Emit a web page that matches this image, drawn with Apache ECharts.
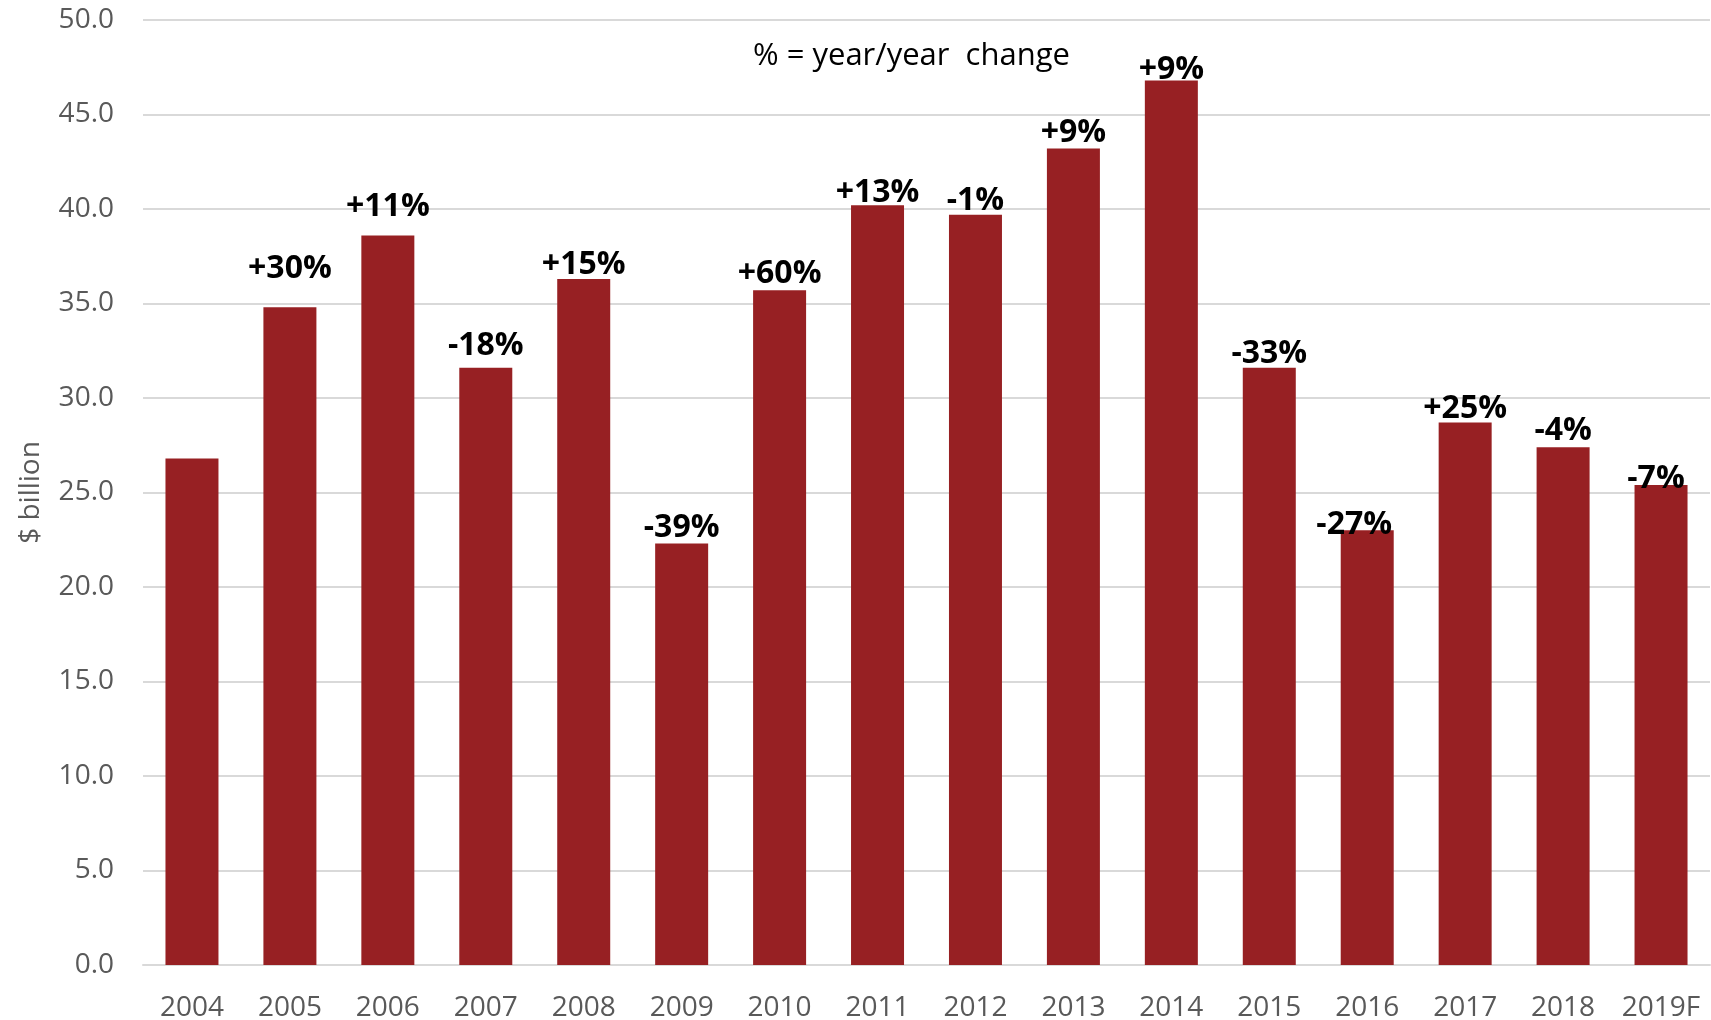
<!DOCTYPE html>
<html>
<head>
<meta charset="utf-8">
<script src="https://cdn.jsdelivr.net/npm/echarts@6/dist/echarts.min.js"></script>
<style>
html, body { margin: 0; padding: 0; background: #ffffff; }
#chart { width: 1711px; height: 1020px; }
</style>
</head>
<body>
<div id="chart"></div>
<script>
var years = ['2004', '2005', '2006', '2007', '2008', '2009', '2010', '2011',
  '2012', '2013', '2014', '2015', '2016', '2017', '2018', '2019F']
var values = [26.8, 34.8, 38.6, 31.6, 36.3, 22.3, 35.7, 40.2,
  39.7, 43.2, 46.8, 31.6, 23.0, 28.7, 27.4, 25.4]
var changes = ['', '+30%', '+11%', '-18%', '+15%', '-39%', '+60%', '+13%',
  '-1%', '+9%', '+9%', '-33%', '-27%', '+25%', '-4%', '-7%']
var yTicks = [0, 5, 10, 15, 20, 25, 30, 35, 40, 45, 50]

// small label shifts [x, y] so the % labels sit like in the original
var labelShift = [[0, 0], [0, -22], [0, -13], [0, -6], [0, 2], [0, 0], [0, 0], [0, 4],
  [0, 2], [0, 0], [0, 5], [0, 2], [-13, 11], [0, 2], [0, 0], [-5, 10]]

var grey = '#595959'
var barColor = '#972023'

var myChart = echarts.init(document.getElementById('chart'))

var seriesData = values.map(function (v, i) {
  return {
    value: v,
    label: { offset: labelShift[i] }
  }
})

var option = {
  animation: false,
  grid: { left: 143, right: 1, top: 20, bottom: 55, outerBoundsMode: 'none' },
  graphic: [{
    type: 'text',
    left: 753,
    top: 41,
    style: {
      text: '% = year/year  change',
      fill: '#000000',
      font: '31px "Open Sans"'
    }
  }],
  xAxis: {
    type: 'category',
    data: years,
    axisLine: { show: true, lineStyle: { color: '#d9d9d9', width: 2 } },
    axisTick: { show: false },
    axisLabel: {
      color: grey,
      fontFamily: 'Open Sans',
      fontSize: 28,
      margin: 29,
      interval: 0
    }
  },
  yAxis: {
    type: 'value',
    min: yTicks[0],
    max: yTicks[yTicks.length - 1],
    interval: 5,
    name: '$ billion',
    nameLocation: 'middle',
    nameGap: 98,
    nameRotate: 90,
    nameTextStyle: { color: grey, fontFamily: 'Open Sans', fontSize: 28 },
    axisLine: { show: false },
    axisTick: { show: false },
    splitLine: { lineStyle: { color: '#d9d9d9', width: 2 } },
    axisLabel: {
      color: grey,
      fontFamily: 'Open Sans',
      fontSize: 28,
      margin: 29,
      formatter: function (v) { return v.toFixed(1) }
    }
  },
  series: [{
    type: 'bar',
    data: seriesData,
    barWidth: 53,
    itemStyle: { color: barColor },
    label: {
      show: true,
      position: 'top',
      distance: 0,
      color: '#000000',
      fontFamily: 'Open Sans',
      fontWeight: 'bold',
      fontSize: 32,
      formatter: function (p) { return changes[p.dataIndex] }
    }
  }]
}

myChart.setOption(option)
</script>
</body>
</html>
